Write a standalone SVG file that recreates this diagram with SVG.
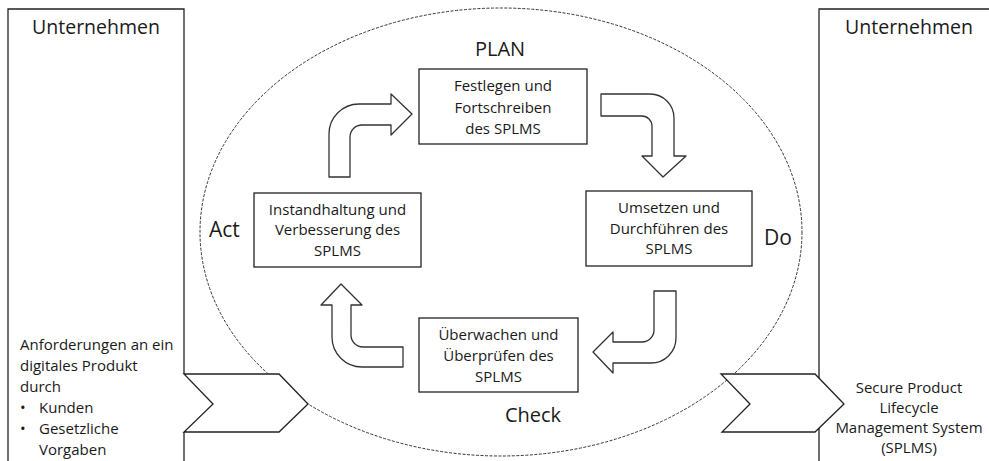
<svg xmlns="http://www.w3.org/2000/svg" width="989" height="461" viewBox="0 0 989 461">
<style>
text{font-family:"Open Sans","Noto Sans","Liberation Sans",sans-serif;fill:#1a1a1a}
.t{font-size:15px}
.c{text-anchor:middle}
.big{font-size:20px}
.box{fill:#fff;stroke:#222;stroke-width:1.3}
.arr{fill:#fff;stroke:#333;stroke-width:1.3;stroke-linejoin:round}
.frame{fill:none;stroke:#222;stroke-width:1.3}
.chev{fill:#fff;stroke:#222;stroke-width:1.3;stroke-linejoin:miter}
</style>
<rect width="989" height="461" fill="#fff"/>
<g id="company-left">
<path class="frame" d="M8,462 L8,9 L184,9 L184,374 M184,432 L184,462"/>
<text class="c" x="96" y="34" style="font-size:19.5px">Unternehmen</text>
<text class="t" x="20" y="350">Anforderungen an ein</text>
<text class="t" x="20" y="371">digitales Produkt</text>
<text class="t" x="20" y="392">durch</text>
<text class="t" x="20" y="413">•</text><text class="t" x="39" y="413">Kunden</text>
<text class="t" x="20" y="434">•</text><text class="t" x="39" y="434">Gesetzliche</text>
<text class="t" x="39" y="455">Vorgaben</text>
</g>
<g id="company-right">
<path class="frame" d="M819,462 L819,9 L990,9"/>
<text class="c" x="909" y="34" style="font-size:19.5px">Unternehmen</text>
<text class="t c" x="909" y="393">Secure Product</text>
<text class="t c" x="909" y="413">Lifecycle</text>
<text class="t c" x="909" y="433">Management System</text>
<text class="t c" x="909" y="453">(SPLMS)</text>
</g>
<g id="cycle">
<ellipse cx="501" cy="232" rx="301" ry="224" fill="none" stroke="#333" stroke-width="1" stroke-dasharray="3,1.5"/>
<text class="big c" x="500" y="56">PLAN</text>
<text class="big" x="209" y="237" style="font-size:21px">Act</text>
<text class="big" x="764" y="245" style="font-size:21px">Do</text>
<text class="big c" x="533" y="422">Check</text>
</g>
<g id="plan">
<rect class="box" x="419" y="69" width="168" height="75"/>
<text class="t c" x="503" y="91">Festlegen und</text>
<text class="t c" x="503" y="113">Fortschreiben</text>
<text class="t c" x="503" y="134">des SPLMS</text>
</g>
<g id="do">
<rect class="box" x="586" y="191" width="166" height="75"/>
<text class="t c" x="669" y="213">Umsetzen und</text>
<text class="t c" x="669" y="234">Durchführen des</text>
<text class="t c" x="669" y="254">SPLMS</text>
</g>
<g id="check">
<rect class="box" x="419" y="318" width="159" height="74"/>
<text class="t c" x="498.5" y="340">Überwachen und</text>
<text class="t c" x="498.5" y="361">Überprüfen des</text>
<text class="t c" x="498.5" y="382">SPLMS</text>
</g>
<g id="act">
<rect class="box" x="254" y="193" width="167" height="74"/>
<text class="t c" x="337.5" y="215">Instandhaltung und</text>
<text class="t c" x="337.5" y="235">Verbesserung des</text>
<text class="t c" x="337.5" y="256">SPLMS</text>
</g>
<g id="connectors">
<path class="arr" d="M329,177 L329,134 A30,30 0 0 1 359,104 L391,104 L391,94 L412,114 L391,135 L391,125 L362,125 A12,12 0 0 0 350,137 L350,177 Z"/>
<path class="arr" d="M601,94 L650,94 A24,24 0 0 1 674,118 L674,156 L686,156 L663,177 L642,156 L652,156 L652,126 A10,10 0 0 0 642,116 L601,116 Z"/>
<path class="arr" d="M654,291 L676,291 L676,338 A25,25 0 0 1 651,363 L613,363 L613,373 L593,352 L613,332 L613,342 L642,342 A12,12 0 0 0 654,330 Z"/>
<path class="arr" d="M403,347 L363,347 A12,12 0 0 1 351,335 L351,305 L362,305 L341,284 L321,305 L332,305 L332,337 A30,30 0 0 0 362,367 L403,367 Z"/>
<path class="chev" d="M184,374 L279,374 L308,404 L279,432 L184,432 L213,404 Z"/>
<path class="chev" d="M721,374 L815,374 L844,404 L815,432 L722,432 L750,404 Z"/>
</g>
</svg>
